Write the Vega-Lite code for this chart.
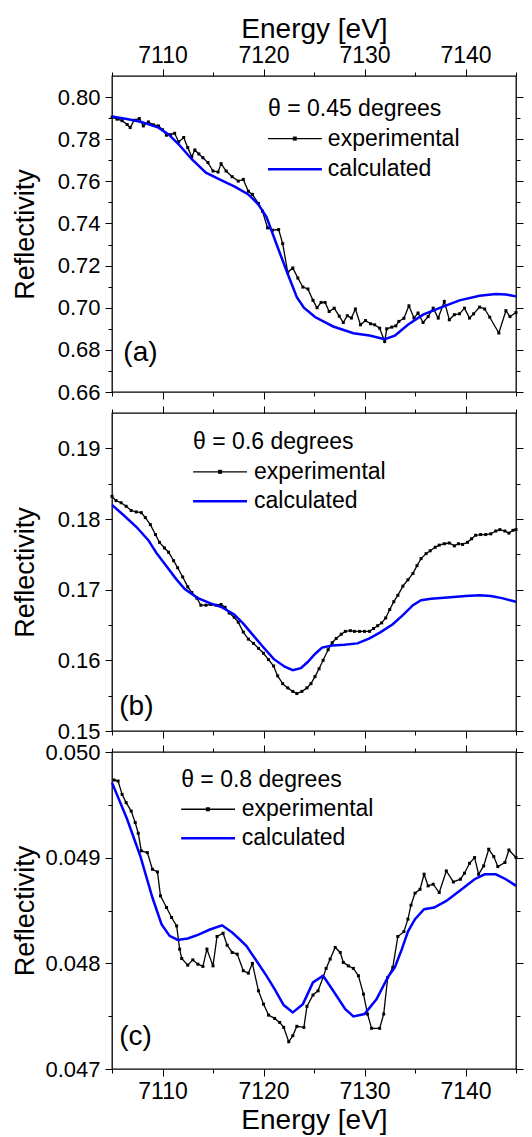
{
  "$schema": "https://vega.github.io/schema/vega-lite/v6.json",
  "background": "white",
  "padding": {"left": 10, "top": 14, "right": 5, "bottom": 3},
  "bounds": "flush",
  "spacing": 21,
  "config": {
    "font": "Liberation Sans",
    "view": {"stroke": "black", "strokeWidth": 1.3},
    "axis": {"grid": false, "domain": false, "tickColor": "black", "tickWidth": 1, "labelColor": "black", "titleColor": "black", "labelFont": "Liberation Sans", "titleFont": "Liberation Sans", "labelFontSize": 23, "titleFontSize": 28, "titleFontWeight": "normal", "labelFlush": false, "labelOverlap": false},
    "axisY": {"labelFontSize": 22},
    "text": {"font": "Liberation Sans", "color": "black"}
  },
  "datasets": {
    "exp_a": [
      {"energy": 7105.0, "reflectivity": 0.7905}, {"energy": 7105.5, "reflectivity": 0.7895}, {"energy": 7106.0, "reflectivity": 0.7888}, {"energy": 7106.5, "reflectivity": 0.7870}, {"energy": 7106.8, "reflectivity": 0.7855},
      {"energy": 7107.2, "reflectivity": 0.7890}, {"energy": 7107.7, "reflectivity": 0.7898}, {"energy": 7108.1, "reflectivity": 0.7863}, {"energy": 7108.6, "reflectivity": 0.7882}, {"energy": 7109.1, "reflectivity": 0.7868},
      {"energy": 7109.6, "reflectivity": 0.7863}, {"energy": 7110.0, "reflectivity": 0.7845}, {"energy": 7110.4, "reflectivity": 0.7819}, {"energy": 7110.8, "reflectivity": 0.7822}, {"energy": 7111.2, "reflectivity": 0.7828},
      {"energy": 7111.6, "reflectivity": 0.7787}, {"energy": 7112.1, "reflectivity": 0.7808}, {"energy": 7112.5, "reflectivity": 0.7760}, {"energy": 7112.9, "reflectivity": 0.7717}, {"energy": 7113.2, "reflectivity": 0.7749},
      {"energy": 7113.6, "reflectivity": 0.7730}, {"energy": 7114.0, "reflectivity": 0.7712}, {"energy": 7114.5, "reflectivity": 0.7689}, {"energy": 7115.0, "reflectivity": 0.7649}, {"energy": 7115.5, "reflectivity": 0.7644},
      {"energy": 7115.8, "reflectivity": 0.7684}, {"energy": 7116.3, "reflectivity": 0.7649}, {"energy": 7116.9, "reflectivity": 0.7622}, {"energy": 7117.5, "reflectivity": 0.7601}, {"energy": 7118.0, "reflectivity": 0.7609},
      {"energy": 7118.5, "reflectivity": 0.7553}, {"energy": 7118.9, "reflectivity": 0.7538}, {"energy": 7119.5, "reflectivity": 0.7495}, {"energy": 7119.9, "reflectivity": 0.7458}, {"energy": 7120.4, "reflectivity": 0.7379},
      {"energy": 7120.9, "reflectivity": 0.7368}, {"energy": 7121.5, "reflectivity": 0.7371}, {"energy": 7121.9, "reflectivity": 0.7304}, {"energy": 7122.4, "reflectivity": 0.7168}, {"energy": 7122.9, "reflectivity": 0.7189},
      {"energy": 7123.4, "reflectivity": 0.7141}, {"energy": 7123.9, "reflectivity": 0.7098}, {"energy": 7124.4, "reflectivity": 0.7089}, {"energy": 7124.9, "reflectivity": 0.7035}, {"energy": 7125.3, "reflectivity": 0.7000},
      {"energy": 7125.7, "reflectivity": 0.7025}, {"energy": 7126.1, "reflectivity": 0.7025}, {"energy": 7126.5, "reflectivity": 0.6982}, {"energy": 7127.0, "reflectivity": 0.6998}, {"energy": 7127.5, "reflectivity": 0.6960},
      {"energy": 7127.9, "reflectivity": 0.6930}, {"energy": 7128.3, "reflectivity": 0.6962}, {"energy": 7128.7, "reflectivity": 0.6951}, {"energy": 7129.1, "reflectivity": 0.6994}, {"energy": 7129.6, "reflectivity": 0.6919},
      {"energy": 7130.1, "reflectivity": 0.6939}, {"energy": 7130.6, "reflectivity": 0.6924}, {"energy": 7131.0, "reflectivity": 0.6919}, {"energy": 7131.5, "reflectivity": 0.6903}, {"energy": 7132.0, "reflectivity": 0.6840},
      {"energy": 7132.2, "reflectivity": 0.6900}, {"energy": 7132.7, "reflectivity": 0.6908}, {"energy": 7133.1, "reflectivity": 0.6914}, {"energy": 7133.4, "reflectivity": 0.6935}, {"energy": 7133.9, "reflectivity": 0.6950},
      {"energy": 7134.4, "reflectivity": 0.7009}, {"energy": 7134.9, "reflectivity": 0.6951}, {"energy": 7135.3, "reflectivity": 0.6975}, {"energy": 7135.8, "reflectivity": 0.6930}, {"energy": 7136.3, "reflectivity": 0.6958},
      {"energy": 7136.8, "reflectivity": 0.6998}, {"energy": 7137.3, "reflectivity": 0.6951}, {"energy": 7137.9, "reflectivity": 0.7030}, {"energy": 7138.4, "reflectivity": 0.6943}, {"energy": 7138.9, "reflectivity": 0.6967},
      {"energy": 7139.4, "reflectivity": 0.6971}, {"energy": 7139.9, "reflectivity": 0.6998}, {"energy": 7140.4, "reflectivity": 0.6951}, {"energy": 7140.8, "reflectivity": 0.6971}, {"energy": 7141.4, "reflectivity": 0.7003},
      {"energy": 7141.9, "reflectivity": 0.6994}, {"energy": 7142.4, "reflectivity": 0.6955}, {"energy": 7143.3, "reflectivity": 0.6880}, {"energy": 7144.0, "reflectivity": 0.6986}, {"energy": 7144.4, "reflectivity": 0.6958},
      {"energy": 7145.0, "reflectivity": 0.6977}
    ],
    "calc_a": [
      {"energy": 7105.0, "reflectivity": 0.7908}, {"energy": 7106.6, "reflectivity": 0.7895}, {"energy": 7107.9, "reflectivity": 0.7882}, {"energy": 7109.6, "reflectivity": 0.7855}, {"energy": 7110.6, "reflectivity": 0.7823},
      {"energy": 7111.6, "reflectivity": 0.7776}, {"energy": 7112.9, "reflectivity": 0.7705}, {"energy": 7114.3, "reflectivity": 0.7641}, {"energy": 7115.8, "reflectivity": 0.7606}, {"energy": 7117.2, "reflectivity": 0.7574},
      {"energy": 7118.5, "reflectivity": 0.7538}, {"energy": 7119.5, "reflectivity": 0.7490}, {"energy": 7120.3, "reflectivity": 0.7430}, {"energy": 7121.3, "reflectivity": 0.7300}, {"energy": 7122.4, "reflectivity": 0.7160},
      {"energy": 7123.3, "reflectivity": 0.7050}, {"energy": 7124.0, "reflectivity": 0.7000}, {"energy": 7125.1, "reflectivity": 0.6956}, {"energy": 7126.9, "reflectivity": 0.6911}, {"energy": 7128.9, "reflectivity": 0.6879},
      {"energy": 7130.5, "reflectivity": 0.6868}, {"energy": 7132.0, "reflectivity": 0.6851}, {"energy": 7133.0, "reflectivity": 0.6867}, {"energy": 7134.3, "reflectivity": 0.6919}, {"energy": 7135.8, "reflectivity": 0.6967},
      {"energy": 7137.4, "reflectivity": 0.6998}, {"energy": 7139.4, "reflectivity": 0.7035}, {"energy": 7141.4, "reflectivity": 0.7057}, {"energy": 7143.0, "reflectivity": 0.7065}, {"energy": 7144.0, "reflectivity": 0.7063},
      {"energy": 7145.0, "reflectivity": 0.7054}
    ],
    "exp_b": [
      {"energy": 7105.0, "reflectivity": 0.1832}, {"energy": 7105.4, "reflectivity": 0.1826}, {"energy": 7105.9, "reflectivity": 0.1823}, {"energy": 7106.4, "reflectivity": 0.1818}, {"energy": 7106.9, "reflectivity": 0.1812},
      {"energy": 7107.4, "reflectivity": 0.1810}, {"energy": 7107.9, "reflectivity": 0.1809}, {"energy": 7108.3, "reflectivity": 0.1802}, {"energy": 7108.8, "reflectivity": 0.1792}, {"energy": 7109.3, "reflectivity": 0.1778},
      {"energy": 7109.7, "reflectivity": 0.1767}, {"energy": 7110.2, "reflectivity": 0.1759}, {"energy": 7110.6, "reflectivity": 0.1753}, {"energy": 7111.1, "reflectivity": 0.1741}, {"energy": 7111.5, "reflectivity": 0.1731},
      {"energy": 7112.0, "reflectivity": 0.1718}, {"energy": 7112.5, "reflectivity": 0.1704}, {"energy": 7112.9, "reflectivity": 0.1696}, {"energy": 7113.4, "reflectivity": 0.1688}, {"energy": 7113.8, "reflectivity": 0.1678},
      {"energy": 7114.3, "reflectivity": 0.1678}, {"energy": 7114.8, "reflectivity": 0.1679}, {"energy": 7115.3, "reflectivity": 0.1678}, {"energy": 7115.8, "reflectivity": 0.1679}, {"energy": 7116.2, "reflectivity": 0.1675},
      {"energy": 7116.6, "reflectivity": 0.1667}, {"energy": 7117.1, "reflectivity": 0.1661}, {"energy": 7117.5, "reflectivity": 0.1654}, {"energy": 7118.0, "reflectivity": 0.1640}, {"energy": 7118.5, "reflectivity": 0.1630},
      {"energy": 7119.0, "reflectivity": 0.1624}, {"energy": 7119.5, "reflectivity": 0.1617}, {"energy": 7120.0, "reflectivity": 0.1610}, {"energy": 7120.5, "reflectivity": 0.1601}, {"energy": 7121.0, "reflectivity": 0.1592},
      {"energy": 7121.4, "reflectivity": 0.1578}, {"energy": 7121.9, "reflectivity": 0.1567}, {"energy": 7122.4, "reflectivity": 0.1561}, {"energy": 7122.9, "reflectivity": 0.1556}, {"energy": 7123.3, "reflectivity": 0.1553},
      {"energy": 7123.8, "reflectivity": 0.1556}, {"energy": 7124.3, "reflectivity": 0.1561}, {"energy": 7124.7, "reflectivity": 0.1567}, {"energy": 7125.1, "reflectivity": 0.1577}, {"energy": 7125.5, "reflectivity": 0.1588},
      {"energy": 7125.9, "reflectivity": 0.1600}, {"energy": 7126.4, "reflectivity": 0.1615}, {"energy": 7126.8, "reflectivity": 0.1625}, {"energy": 7127.2, "reflectivity": 0.1631}, {"energy": 7127.7, "reflectivity": 0.1637},
      {"energy": 7128.1, "reflectivity": 0.1641}, {"energy": 7128.6, "reflectivity": 0.1642}, {"energy": 7129.0, "reflectivity": 0.1641}, {"energy": 7129.5, "reflectivity": 0.1641}, {"energy": 7130.0, "reflectivity": 0.1641},
      {"energy": 7130.5, "reflectivity": 0.1641}, {"energy": 7130.9, "reflectivity": 0.1645}, {"energy": 7131.3, "reflectivity": 0.1649}, {"energy": 7131.7, "reflectivity": 0.1653}, {"energy": 7132.1, "reflectivity": 0.1660},
      {"energy": 7132.5, "reflectivity": 0.1672}, {"energy": 7132.9, "reflectivity": 0.1683}, {"energy": 7133.3, "reflectivity": 0.1692}, {"energy": 7133.8, "reflectivity": 0.1705}, {"energy": 7134.3, "reflectivity": 0.1714},
      {"energy": 7134.8, "reflectivity": 0.1723}, {"energy": 7135.2, "reflectivity": 0.1734}, {"energy": 7135.6, "reflectivity": 0.1744}, {"energy": 7136.1, "reflectivity": 0.1751}, {"energy": 7136.5, "reflectivity": 0.1755},
      {"energy": 7137.0, "reflectivity": 0.1760}, {"energy": 7137.4, "reflectivity": 0.1763}, {"energy": 7137.9, "reflectivity": 0.1765}, {"energy": 7138.4, "reflectivity": 0.1766}, {"energy": 7138.9, "reflectivity": 0.1762},
      {"energy": 7139.3, "reflectivity": 0.1765}, {"energy": 7139.7, "reflectivity": 0.1764}, {"energy": 7140.2, "reflectivity": 0.1767}, {"energy": 7140.6, "reflectivity": 0.1772}, {"energy": 7141.0, "reflectivity": 0.1777},
      {"energy": 7141.5, "reflectivity": 0.1778}, {"energy": 7142.0, "reflectivity": 0.1778}, {"energy": 7142.5, "reflectivity": 0.1779}, {"energy": 7143.0, "reflectivity": 0.1783}, {"energy": 7143.4, "reflectivity": 0.1785},
      {"energy": 7143.9, "reflectivity": 0.1783}, {"energy": 7144.3, "reflectivity": 0.1780}, {"energy": 7144.7, "reflectivity": 0.1784}, {"energy": 7145.0, "reflectivity": 0.1785}
    ],
    "calc_b": [
      {"energy": 7105.0, "reflectivity": 0.1820}, {"energy": 7106.1, "reflectivity": 0.1806}, {"energy": 7107.4, "reflectivity": 0.1789}, {"energy": 7108.6, "reflectivity": 0.1770}, {"energy": 7109.4, "reflectivity": 0.1752},
      {"energy": 7110.4, "reflectivity": 0.1733}, {"energy": 7111.3, "reflectivity": 0.1716}, {"energy": 7112.2, "reflectivity": 0.1701}, {"energy": 7113.5, "reflectivity": 0.1688}, {"energy": 7114.7, "reflectivity": 0.1681},
      {"energy": 7115.9, "reflectivity": 0.1675}, {"energy": 7117.1, "reflectivity": 0.1665}, {"energy": 7118.0, "reflectivity": 0.1652}, {"energy": 7119.0, "reflectivity": 0.1635}, {"energy": 7119.9, "reflectivity": 0.1620},
      {"energy": 7121.0, "reflectivity": 0.1602}, {"energy": 7122.1, "reflectivity": 0.1591}, {"energy": 7122.9, "reflectivity": 0.1586}, {"energy": 7123.7, "reflectivity": 0.1589}, {"energy": 7124.4, "reflectivity": 0.1598},
      {"energy": 7125.1, "reflectivity": 0.1609}, {"energy": 7125.8, "reflectivity": 0.1618}, {"energy": 7126.8, "reflectivity": 0.1621}, {"energy": 7128.0, "reflectivity": 0.1622}, {"energy": 7129.3, "reflectivity": 0.1624},
      {"energy": 7130.5, "reflectivity": 0.1631}, {"energy": 7131.6, "reflectivity": 0.1640}, {"energy": 7132.8, "reflectivity": 0.1651}, {"energy": 7133.8, "reflectivity": 0.1664}, {"energy": 7134.8, "reflectivity": 0.1678},
      {"energy": 7135.6, "reflectivity": 0.1685}, {"energy": 7136.6, "reflectivity": 0.1687}, {"energy": 7138.2, "reflectivity": 0.1689}, {"energy": 7140.0, "reflectivity": 0.1691}, {"energy": 7141.4, "reflectivity": 0.1692},
      {"energy": 7142.5, "reflectivity": 0.1691}, {"energy": 7143.6, "reflectivity": 0.1688}, {"energy": 7145.0, "reflectivity": 0.1683}
    ],
    "exp_c": [
      {"energy": 7105.2, "reflectivity": 0.049735}, {"energy": 7105.6, "reflectivity": 0.049725}, {"energy": 7106.0, "reflectivity": 0.049599}, {"energy": 7106.4, "reflectivity": 0.049521}, {"energy": 7106.9, "reflectivity": 0.049441},
      {"energy": 7107.3, "reflectivity": 0.049332}, {"energy": 7107.6, "reflectivity": 0.049231}, {"energy": 7107.9, "reflectivity": 0.049064}, {"energy": 7108.5, "reflectivity": 0.049048}, {"energy": 7109.0, "reflectivity": 0.048890},
      {"energy": 7109.5, "reflectivity": 0.048865}, {"energy": 7109.8, "reflectivity": 0.048638}, {"energy": 7110.4, "reflectivity": 0.048528}, {"energy": 7110.9, "reflectivity": 0.048434}, {"energy": 7111.4, "reflectivity": 0.048354},
      {"energy": 7111.7, "reflectivity": 0.048134}, {"energy": 7111.9, "reflectivity": 0.048046}, {"energy": 7112.5, "reflectivity": 0.047983}, {"energy": 7113.0, "reflectivity": 0.048033}, {"energy": 7113.5, "reflectivity": 0.047992},
      {"energy": 7114.0, "reflectivity": 0.047971}, {"energy": 7114.4, "reflectivity": 0.048134}, {"energy": 7115.0, "reflectivity": 0.047976}, {"energy": 7115.4, "reflectivity": 0.048254}, {"energy": 7116.0, "reflectivity": 0.048285},
      {"energy": 7116.4, "reflectivity": 0.048172}, {"energy": 7116.9, "reflectivity": 0.048103}, {"energy": 7117.4, "reflectivity": 0.048087}, {"energy": 7118.0, "reflectivity": 0.047930}, {"energy": 7118.5, "reflectivity": 0.047907},
      {"energy": 7118.9, "reflectivity": 0.047999}, {"energy": 7119.5, "reflectivity": 0.047740}, {"energy": 7120.0, "reflectivity": 0.047614}, {"energy": 7120.5, "reflectivity": 0.047510}, {"energy": 7121.1, "reflectivity": 0.047479},
      {"energy": 7121.6, "reflectivity": 0.047441}, {"energy": 7122.0, "reflectivity": 0.047394}, {"energy": 7122.5, "reflectivity": 0.047258}, {"energy": 7122.9, "reflectivity": 0.047315}, {"energy": 7123.3, "reflectivity": 0.047404},
      {"energy": 7124.0, "reflectivity": 0.047394}, {"energy": 7124.3, "reflectivity": 0.047593}, {"energy": 7124.9, "reflectivity": 0.047700}, {"energy": 7125.4, "reflectivity": 0.047740}, {"energy": 7125.9, "reflectivity": 0.047867},
      {"energy": 7126.2, "reflectivity": 0.047952}, {"energy": 7126.6, "reflectivity": 0.048040}, {"energy": 7127.1, "reflectivity": 0.048150}, {"energy": 7127.6, "reflectivity": 0.048103}, {"energy": 7127.9, "reflectivity": 0.048009},
      {"energy": 7128.4, "reflectivity": 0.047976}, {"energy": 7128.9, "reflectivity": 0.047952}, {"energy": 7129.4, "reflectivity": 0.047882}, {"energy": 7129.9, "reflectivity": 0.047709}, {"energy": 7130.3, "reflectivity": 0.047520},
      {"energy": 7130.7, "reflectivity": 0.047385}, {"energy": 7131.5, "reflectivity": 0.047385}, {"energy": 7131.9, "reflectivity": 0.047520}, {"energy": 7132.3, "reflectivity": 0.047867}, {"energy": 7132.8, "reflectivity": 0.047961},
      {"energy": 7133.3, "reflectivity": 0.048254}, {"energy": 7133.9, "reflectivity": 0.048300}, {"energy": 7134.3, "reflectivity": 0.048418}, {"energy": 7134.6, "reflectivity": 0.048550}, {"energy": 7135.0, "reflectivity": 0.048664},
      {"energy": 7135.5, "reflectivity": 0.048701}, {"energy": 7135.9, "reflectivity": 0.048843}, {"energy": 7136.3, "reflectivity": 0.048733}, {"energy": 7136.8, "reflectivity": 0.048749}, {"energy": 7137.4, "reflectivity": 0.048670},
      {"energy": 7138.1, "reflectivity": 0.048874}, {"energy": 7138.8, "reflectivity": 0.048770}, {"energy": 7139.5, "reflectivity": 0.048796}, {"energy": 7139.9, "reflectivity": 0.048853}, {"energy": 7140.4, "reflectivity": 0.048947},
      {"energy": 7140.9, "reflectivity": 0.049001}, {"energy": 7141.3, "reflectivity": 0.048843}, {"energy": 7141.8, "reflectivity": 0.048922}, {"energy": 7142.3, "reflectivity": 0.049080}, {"energy": 7142.8, "reflectivity": 0.049010},
      {"energy": 7143.2, "reflectivity": 0.048916}, {"energy": 7143.9, "reflectivity": 0.048954}, {"energy": 7144.3, "reflectivity": 0.049073}, {"energy": 7145.0, "reflectivity": 0.049001}
    ],
    "calc_c": [
      {"energy": 7105.0, "reflectivity": 0.049710}, {"energy": 7106.5, "reflectivity": 0.049363}, {"energy": 7107.8, "reflectivity": 0.049016}, {"energy": 7109.0, "reflectivity": 0.048623}, {"energy": 7109.9, "reflectivity": 0.048371},
      {"energy": 7110.7, "reflectivity": 0.048260}, {"energy": 7111.5, "reflectivity": 0.048222}, {"energy": 7112.5, "reflectivity": 0.048235}, {"energy": 7113.5, "reflectivity": 0.048270}, {"energy": 7114.7, "reflectivity": 0.048320},
      {"energy": 7115.9, "reflectivity": 0.048360}, {"energy": 7116.9, "reflectivity": 0.048292}, {"energy": 7117.6, "reflectivity": 0.048230}, {"energy": 7118.3, "reflectivity": 0.048166}, {"energy": 7119.3, "reflectivity": 0.048024},
      {"energy": 7120.3, "reflectivity": 0.047882}, {"energy": 7121.1, "reflectivity": 0.047756}, {"energy": 7122.0, "reflectivity": 0.047605}, {"energy": 7122.9, "reflectivity": 0.047536}, {"energy": 7123.9, "reflectivity": 0.047614},
      {"energy": 7124.9, "reflectivity": 0.047819}, {"energy": 7125.9, "reflectivity": 0.047882}, {"energy": 7126.9, "reflectivity": 0.047740}, {"energy": 7128.1, "reflectivity": 0.047567}, {"energy": 7128.9, "reflectivity": 0.047498},
      {"energy": 7130.0, "reflectivity": 0.047520}, {"energy": 7131.2, "reflectivity": 0.047662}, {"energy": 7132.3, "reflectivity": 0.047867}, {"energy": 7133.0, "reflectivity": 0.047961}, {"energy": 7133.7, "reflectivity": 0.048134},
      {"energy": 7134.3, "reflectivity": 0.048300}, {"energy": 7135.0, "reflectivity": 0.048418}, {"energy": 7135.9, "reflectivity": 0.048512}, {"energy": 7136.9, "reflectivity": 0.048528}, {"energy": 7138.1, "reflectivity": 0.048591},
      {"energy": 7139.4, "reflectivity": 0.048685}, {"energy": 7140.9, "reflectivity": 0.048796}, {"energy": 7141.9, "reflectivity": 0.048843}, {"energy": 7143.0, "reflectivity": 0.048843}, {"energy": 7144.0, "reflectivity": 0.048796},
      {"energy": 7145.0, "reflectivity": 0.048733}
    ]
  },
  "vconcat": [
    {
      "width": 404, "height": 316,
      "resolve": {"axis": {"x": "independent", "y": "independent"}},
      "layer": [
        {"data": {"name": "exp_a"}, "mark": {"type": "line", "color": "black", "strokeWidth": 1.3},
         "encoding": {
           "x": {"field": "energy", "type": "quantitative", "scale": {"domain": [7105, 7145], "nice": false, "zero": false},
                 "axis": {"orient": "top", "values": [7110, 7120, 7130, 7140], "format": "d", "tickSize": 7, "labelPadding": 2, "title": "Energy [eV]", "titlePadding": 1}},
           "y": {"field": "reflectivity", "type": "quantitative", "scale": {"domain": [0.66, 0.81], "nice": false, "zero": false},
                 "axis": {"orient": "left", "values": [0.66, 0.68, 0.70, 0.72, 0.74, 0.76, 0.78, 0.80], "format": ".2f", "tickSize": 7, "labelPadding": 5, "title": "Reflectivity", "titleX": -79, "titleBaseline": "alphabetic", "titleFontSize": 27}}}},
        {"data": {"name": "exp_a"}, "mark": {"type": "point", "shape": "square", "filled": true, "color": "black", "size": 9, "opacity": 1},
         "encoding": {
           "x": {"field": "energy", "type": "quantitative", "scale": {"domain": [7105, 7145], "nice": false, "zero": false},
                 "axis": {"orient": "bottom", "values": [7110, 7120, 7130, 7140], "tickSize": 7, "labels": false, "title": null}},
           "y": {"field": "reflectivity", "type": "quantitative", "scale": {"domain": [0.66, 0.81], "nice": false, "zero": false},
                 "axis": {"orient": "right", "values": [0.66, 0.68, 0.70, 0.72, 0.74, 0.76, 0.78, 0.80], "tickSize": 7, "labels": false, "title": null}}}},
        {"data": {"name": "calc_a"}, "mark": {"type": "line", "color": "#0000ff", "strokeWidth": 2.5},
         "encoding": {
           "x": {"field": "energy", "type": "quantitative", "scale": {"domain": [7105, 7145], "nice": false, "zero": false},
                 "axis": {"orient": "top", "values": [7105, 7115, 7125, 7135, 7145], "tickSize": 4, "labels": false, "title": null}},
           "y": {"field": "reflectivity", "type": "quantitative", "scale": {"domain": [0.66, 0.81], "nice": false, "zero": false},
                 "axis": {"orient": "left", "values": [0.67, 0.69, 0.71, 0.73, 0.75, 0.77, 0.79], "tickSize": 4, "labels": false, "title": null}}}},
        {"data": {"values": [{}]}, "mark": {"type": "text", "align": "left", "baseline": "middle", "fontSize": 23},
         "encoding": {
           "x": {"datum": 7120.44, "type": "quantitative", "axis": {"orient": "bottom", "values": [7105, 7115, 7125, 7135, 7145], "tickSize": 4, "labels": false, "title": null}},
           "y": {"datum": 0.7943, "type": "quantitative", "axis": {"orient": "right", "values": [0.67, 0.69, 0.71, 0.73, 0.75, 0.77, 0.79], "tickSize": 4, "labels": false, "title": null}},
           "text": {"value": "θ = 0.45 degrees"}}},
        {"data": {"values": [{}]}, "mark": {"type": "rule", "color": "black", "strokeWidth": 1.3},
         "encoding": {"x": {"datum": 7120.44, "type": "quantitative", "axis": null}, "x2": {"datum": 7125.78}, "y": {"datum": 0.7803, "type": "quantitative", "axis": null}}},
        {"data": {"values": [{}]}, "mark": {"type": "point", "shape": "square", "filled": true, "color": "black", "size": 16, "opacity": 1},
         "encoding": {"x": {"datum": 7123.1, "type": "quantitative", "axis": null}, "y": {"datum": 0.7803, "type": "quantitative", "axis": null}}},
        {"data": {"values": [{}]}, "mark": {"type": "text", "align": "left", "baseline": "middle", "fontSize": 23},
         "encoding": {"x": {"datum": 7126.37, "type": "quantitative", "axis": null}, "y": {"datum": 0.7803, "type": "quantitative", "axis": null}, "text": {"value": "experimental"}}},
        {"data": {"values": [{}]}, "mark": {"type": "rule", "color": "#0000ff", "strokeWidth": 2.5},
         "encoding": {"x": {"datum": 7120.44, "type": "quantitative", "axis": null}, "x2": {"datum": 7125.78}, "y": {"datum": 0.7657, "type": "quantitative", "axis": null}}},
        {"data": {"values": [{}]}, "mark": {"type": "text", "align": "left", "baseline": "middle", "fontSize": 23},
         "encoding": {"x": {"datum": 7126.37, "type": "quantitative", "axis": null}, "y": {"datum": 0.7657, "type": "quantitative", "axis": null}, "text": {"value": "calculated"}}},
        {"data": {"values": [{}]}, "mark": {"type": "text", "align": "left", "baseline": "middle", "fontSize": 28},
         "encoding": {"x": {"datum": 7106.12, "type": "quantitative", "axis": null}, "y": {"datum": 0.6786, "type": "quantitative", "axis": null}, "text": {"value": "(a)"}}}
      ]
    },
    {
      "width": 404, "height": 318,
      "resolve": {"axis": {"x": "independent", "y": "independent"}},
      "layer": [
        {"data": {"name": "exp_b"}, "mark": {"type": "line", "color": "black", "strokeWidth": 1.3},
         "encoding": {
           "x": {"field": "energy", "type": "quantitative", "scale": {"domain": [7105, 7145], "nice": false, "zero": false},
                 "axis": {"orient": "top", "values": [7110, 7120, 7130, 7140], "tickSize": 7, "labels": false, "title": null}},
           "y": {"field": "reflectivity", "type": "quantitative", "scale": {"domain": [0.15, 0.195], "nice": false, "zero": false},
                 "axis": {"orient": "left", "values": [0.15, 0.16, 0.17, 0.18, 0.19], "format": ".2f", "tickSize": 7, "labelPadding": 5, "title": "Reflectivity", "titleX": -79, "titleBaseline": "alphabetic", "titleFontSize": 27}}}},
        {"data": {"name": "exp_b"}, "mark": {"type": "point", "shape": "square", "filled": true, "color": "black", "size": 9, "opacity": 1},
         "encoding": {
           "x": {"field": "energy", "type": "quantitative", "scale": {"domain": [7105, 7145], "nice": false, "zero": false},
                 "axis": {"orient": "bottom", "values": [7110, 7120, 7130, 7140], "tickSize": 7, "labels": false, "title": null}},
           "y": {"field": "reflectivity", "type": "quantitative", "scale": {"domain": [0.15, 0.195], "nice": false, "zero": false},
                 "axis": {"orient": "right", "values": [0.15, 0.16, 0.17, 0.18, 0.19], "tickSize": 7, "labels": false, "title": null}}}},
        {"data": {"name": "calc_b"}, "mark": {"type": "line", "color": "#0000ff", "strokeWidth": 2.5},
         "encoding": {
           "x": {"field": "energy", "type": "quantitative", "scale": {"domain": [7105, 7145], "nice": false, "zero": false},
                 "axis": {"orient": "top", "values": [7105, 7115, 7125, 7135, 7145], "tickSize": 4, "labels": false, "title": null}},
           "y": {"field": "reflectivity", "type": "quantitative", "scale": {"domain": [0.15, 0.195], "nice": false, "zero": false},
                 "axis": {"orient": "left", "values": [0.155, 0.165, 0.175, 0.185], "tickSize": 4, "labels": false, "title": null}}}},
        {"data": {"values": [{}]}, "mark": {"type": "text", "align": "left", "baseline": "middle", "fontSize": 23},
         "encoding": {
           "x": {"datum": 7113.03, "type": "quantitative", "axis": {"orient": "bottom", "values": [7105, 7115, 7125, 7135, 7145], "tickSize": 4, "labels": false, "title": null}},
           "y": {"datum": 0.19084, "type": "quantitative", "axis": {"orient": "right", "values": [0.155, 0.165, 0.175, 0.185], "tickSize": 4, "labels": false, "title": null}},
           "text": {"value": "θ = 0.6 degrees"}}},
        {"data": {"values": [{}]}, "mark": {"type": "rule", "color": "black", "strokeWidth": 1.3},
         "encoding": {"x": {"datum": 7113.03, "type": "quantitative", "axis": null}, "x2": {"datum": 7118.37}, "y": {"datum": 0.18668, "type": "quantitative", "axis": null}}},
        {"data": {"values": [{}]}, "mark": {"type": "point", "shape": "square", "filled": true, "color": "black", "size": 16, "opacity": 1},
         "encoding": {"x": {"datum": 7115.7, "type": "quantitative", "axis": null}, "y": {"datum": 0.18668, "type": "quantitative", "axis": null}}},
        {"data": {"values": [{}]}, "mark": {"type": "text", "align": "left", "baseline": "middle", "fontSize": 23},
         "encoding": {"x": {"datum": 7119.06, "type": "quantitative", "axis": null}, "y": {"datum": 0.18668, "type": "quantitative", "axis": null}, "text": {"value": "experimental"}}},
        {"data": {"values": [{}]}, "mark": {"type": "rule", "color": "#0000ff", "strokeWidth": 2.5},
         "encoding": {"x": {"datum": 7113.03, "type": "quantitative", "axis": null}, "x2": {"datum": 7118.37}, "y": {"datum": 0.18252, "type": "quantitative", "axis": null}}},
        {"data": {"values": [{}]}, "mark": {"type": "text", "align": "left", "baseline": "middle", "fontSize": 23},
         "encoding": {"x": {"datum": 7119.06, "type": "quantitative", "axis": null}, "y": {"datum": 0.18252, "type": "quantitative", "axis": null}, "text": {"value": "calculated"}}},
        {"data": {"values": [{}]}, "mark": {"type": "text", "align": "left", "baseline": "middle", "fontSize": 28},
         "encoding": {"x": {"datum": 7105.72, "type": "quantitative", "axis": null}, "y": {"datum": 0.15345, "type": "quantitative", "axis": null}, "text": {"value": "(b)"}}}
      ]
    },
    {
      "width": 404, "height": 317,
      "resolve": {"axis": {"x": "independent", "y": "independent"}},
      "layer": [
        {"data": {"name": "exp_c"}, "mark": {"type": "line", "color": "black", "strokeWidth": 1.3},
         "encoding": {
           "x": {"field": "energy", "type": "quantitative", "scale": {"domain": [7105, 7145], "nice": false, "zero": false},
                 "axis": {"orient": "top", "values": [7110, 7120, 7130, 7140], "tickSize": 7, "labels": false, "title": null}},
           "y": {"field": "reflectivity", "type": "quantitative", "scale": {"domain": [0.047, 0.050], "nice": false, "zero": false},
                 "axis": {"orient": "left", "values": [0.047, 0.048, 0.049, 0.050], "format": ".3f", "tickSize": 7, "labelPadding": 5, "title": "Reflectivity", "titleX": -79, "titleBaseline": "alphabetic", "titleFontSize": 27}}}},
        {"data": {"name": "exp_c"}, "mark": {"type": "point", "shape": "square", "filled": true, "color": "black", "size": 9, "opacity": 1},
         "encoding": {
           "x": {"field": "energy", "type": "quantitative", "scale": {"domain": [7105, 7145], "nice": false, "zero": false},
                 "axis": {"orient": "bottom", "values": [7110, 7120, 7130, 7140], "format": "d", "tickSize": 7, "labelPadding": 4, "title": "Energy [eV]", "titlePadding": 3}},
           "y": {"field": "reflectivity", "type": "quantitative", "scale": {"domain": [0.047, 0.050], "nice": false, "zero": false},
                 "axis": {"orient": "right", "values": [0.047, 0.048, 0.049, 0.050], "tickSize": 7, "labels": false, "title": null}}}},
        {"data": {"name": "calc_c"}, "mark": {"type": "line", "color": "#0000ff", "strokeWidth": 2.5},
         "encoding": {
           "x": {"field": "energy", "type": "quantitative", "scale": {"domain": [7105, 7145], "nice": false, "zero": false},
                 "axis": {"orient": "top", "values": [7105, 7115, 7125, 7135, 7145], "tickSize": 4, "labels": false, "title": null}},
           "y": {"field": "reflectivity", "type": "quantitative", "scale": {"domain": [0.047, 0.050], "nice": false, "zero": false},
                 "axis": {"orient": "left", "values": [0.0475, 0.0485, 0.0495], "tickSize": 4, "labels": false, "title": null}}}},
        {"data": {"values": [{}]}, "mark": {"type": "text", "align": "left", "baseline": "middle", "fontSize": 23},
         "encoding": {
           "x": {"datum": 7111.85, "type": "quantitative", "axis": {"orient": "bottom", "values": [7105, 7115, 7125, 7135, 7145], "tickSize": 4, "labels": false, "title": null}},
           "y": {"datum": 0.049734, "type": "quantitative", "axis": {"orient": "right", "values": [0.0475, 0.0485, 0.0495], "tickSize": 4, "labels": false, "title": null}},
           "text": {"value": "θ = 0.8 degrees"}}},
        {"data": {"values": [{}]}, "mark": {"type": "rule", "color": "black", "strokeWidth": 1.3},
         "encoding": {"x": {"datum": 7111.85, "type": "quantitative", "axis": null}, "x2": {"datum": 7117.18}, "y": {"datum": 0.049458, "type": "quantitative", "axis": null}}},
        {"data": {"values": [{}]}, "mark": {"type": "point", "shape": "square", "filled": true, "color": "black", "size": 16, "opacity": 1},
         "encoding": {"x": {"datum": 7114.5, "type": "quantitative", "axis": null}, "y": {"datum": 0.049458, "type": "quantitative", "axis": null}}},
        {"data": {"values": [{}]}, "mark": {"type": "text", "align": "left", "baseline": "middle", "fontSize": 23},
         "encoding": {"x": {"datum": 7117.85, "type": "quantitative", "axis": null}, "y": {"datum": 0.049458, "type": "quantitative", "axis": null}, "text": {"value": "experimental"}}},
        {"data": {"values": [{}]}, "mark": {"type": "rule", "color": "#0000ff", "strokeWidth": 2.5},
         "encoding": {"x": {"datum": 7111.85, "type": "quantitative", "axis": null}, "x2": {"datum": 7117.18}, "y": {"datum": 0.049183, "type": "quantitative", "axis": null}}},
        {"data": {"values": [{}]}, "mark": {"type": "text", "align": "left", "baseline": "middle", "fontSize": 23},
         "encoding": {"x": {"datum": 7117.85, "type": "quantitative", "axis": null}, "y": {"datum": 0.049183, "type": "quantitative", "axis": null}, "text": {"value": "calculated"}}},
        {"data": {"values": [{}]}, "mark": {"type": "text", "align": "left", "baseline": "middle", "fontSize": 28},
         "encoding": {"x": {"datum": 7105.72, "type": "quantitative", "axis": null}, "y": {"datum": 0.047302, "type": "quantitative", "axis": null}, "text": {"value": "(c)"}}}
      ]
    }
  ]
}
